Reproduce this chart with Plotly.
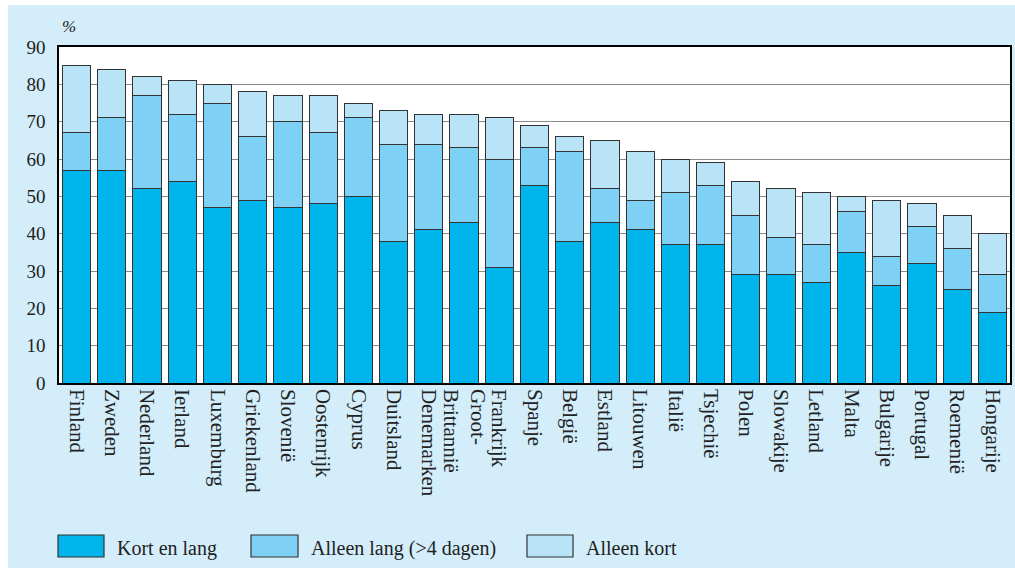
import plotly.graph_objects as go

countries = ["Finland", "Zweden", "Nederland", "Ierland", "Luxemburg", "Griekenland",
             "Slovenië", "Oostenrijk", "Cyprus", "Duitsland", "Denemarken",
             "Groot-<br>Brittannië", "Frankrijk", "Spanje", "België", "Estland",
             "Litouwen", "Italië", "Tsjechië", "Polen", "Slowakije", "Letland",
             "Malta", "Bulgarije", "Portugal", "Roemenië", "Hongarije"]
kort_en_lang = [57, 57, 52, 54, 47, 49, 47, 48, 50, 38, 41, 43, 31, 53, 38, 43,
                41, 37, 37, 29, 29, 27, 35, 26, 32, 25, 19]
alleen_lang = [10, 14, 25, 18, 28, 17, 23, 19, 21, 26, 23, 20, 29, 10, 24, 9,
               8, 14, 16, 16, 10, 10, 11, 8, 10, 11, 10]
alleen_kort = [18, 13, 5, 9, 5, 12, 7, 10, 4, 9, 8, 9, 11, 6, 4, 13,
               13, 9, 6, 9, 13, 14, 4, 15, 6, 9, 11]
series_names = ["Kort en lang", "Alleen lang (>4 dagen)", "Alleen kort"]
series_colors = ["#00B4EC", "#7FD0F5", "#B9E4F8"]
y_ticks = [0, 10, 20, 30, 40, 50, 60, 70, 80, 90]

W, H = 1015, 568
L, R, T, B = 59, 5, 47, 185
PW, PH = W - L - R, H - T - B


def px_x(p):
    return (p - L) / PW


def px_y(p):
    return (H - B - p) / PH


BG = "#D3EEFA"
FONT = "Liberation Serif, DejaVu Serif, serif"
line = dict(color="#333333", width=1)

fig = go.Figure()
for vals, name, col in zip([kort_en_lang, alleen_lang, alleen_kort], series_names, series_colors):
    fig.add_bar(x=countries, y=vals, name=name, showlegend=False,
                marker=dict(color=col, line=line))

shapes = [
    dict(type="rect", xref="paper", yref="paper", x0=-0.2, x1=1.2,
         y0=px_y(5), y1=px_y(-20), fillcolor="white", line=dict(width=0), layer="above"),
    dict(type="rect", xref="paper", yref="paper", x0=px_x(-20), x1=px_x(8),
         y0=px_y(600), y1=px_y(-20), fillcolor="white", line=dict(width=0), layer="above"),
]
annotations = [dict(text="<i>%</i>", xref="paper", yref="paper", x=px_x(60), y=px_y(27),
                    xanchor="left", yanchor="middle", showarrow=False,
                    font=dict(size=17, family=FONT))]

# manual legend
legend_boxes = [(58, 104, 115), (251, 298, 309), (527, 573, 584)]
for (bx0, bx1, tx), name, col in zip(legend_boxes, series_names, series_colors):
    shapes.append(dict(type="rect", xref="paper", yref="paper",
                       x0=px_x(bx0), x1=px_x(bx1), y0=px_y(557), y1=px_y(535),
                       fillcolor=col, line=dict(color="#333333", width=1.2)))
    annotations.append(dict(text=name, xref="paper", yref="paper", x=px_x(tx), y=px_y(548),
                            xanchor="left", yanchor="middle", showarrow=False,
                            font=dict(size=20, family=FONT, color="#222222")))

fig.update_layout(
    barmode="stack", bargap=0.2,
    width=W, height=H,
    margin=dict(l=L, r=R, t=T, b=B),
    paper_bgcolor=BG, plot_bgcolor="white",
    font=dict(family=FONT, size=18, color="#222222"),
    showlegend=False,
    xaxis=dict(tickangle=90, showline=True, linecolor="black", linewidth=1.5,
               mirror=True, ticks="", tickfont=dict(size=21), automargin=False),
    yaxis=dict(range=[0, 90], tickvals=y_ticks, showgrid=True, gridcolor="#8a8a8a",
               gridwidth=1, showline=True, linecolor="black", linewidth=1.5,
               mirror=True, ticks="", tickfont=dict(size=19), zeroline=False,
               automargin=False, ticklabelstandoff=8),
    annotations=annotations,
    shapes=shapes,
)

fig.write_html("out.html", config={"displayModeBar": False},
               post_script="document.body.style.margin='0';document.body.style.overflow='hidden';")
